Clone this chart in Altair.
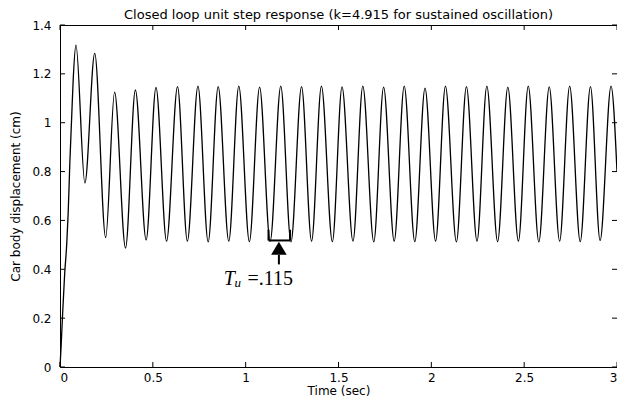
import altair as alt
import pandas as pd

# --- data ---
rise_t = [0.0, 0.005, 0.013, 0.025, 0.036, 0.044, 0.053, 0.063, 0.071]
rise_y = [0.0, 0.07, 0.20, 0.38, 0.50, 0.63, 0.835, 1.025, 1.175]

peak_t = [0.086, 0.187, 0.294, 0.406, 0.517, 0.633, 0.743, 0.852, 0.963, 1.075,
          1.189, 1.301, 1.408, 1.519, 1.631, 1.743, 1.854, 1.966, 2.076, 2.189,
          2.299, 2.412, 2.522, 2.635, 2.745, 2.857, 2.968]
peak_y = [1.318, 1.284, 1.125, 1.134, 1.145, 1.148, 1.150, 1.148, 1.150, 1.146,
          1.150, 1.148, 1.150, 1.147, 1.150, 1.146, 1.150, 1.142, 1.150, 1.148,
          1.150, 1.146, 1.150, 1.147, 1.150, 1.148, 1.150]

trough_t = [0.134, 0.246, 0.353, 0.464, 0.574, 0.686, 0.798, 0.909, 1.020, 1.132,
            1.244, 1.355, 1.467, 1.578, 1.690, 1.800, 1.911, 2.023, 2.135, 2.246,
            2.357, 2.469, 2.579, 2.691, 2.802, 2.909]
trough_y = [0.753, 0.530, 0.487, 0.520, 0.515, 0.515, 0.512, 0.515, 0.513, 0.515,
            0.512, 0.515, 0.513, 0.515, 0.512, 0.515, 0.513, 0.515, 0.512, 0.515,
            0.513, 0.515, 0.512, 0.515, 0.513, 0.518]

end_t = [3.0]
end_y = [0.80]

x_ticks = [0, 0.5, 1, 1.5, 2, 2.5, 3]
y_ticks = [0, 0.2, 0.4, 0.6, 0.8, 1.0, 1.2, 1.4]

title_text = "Closed loop unit step response (k=4.915 for sustained oscillation)"
x_title = "Time (sec)"
y_title = "Car body displacement (cm)"

# annotation (bracket spanning one period, arrow, label)
bracket_t = [1.123, 1.239]
bracket_y = [0.518, 0.562]
arrow_t = [1.179]
arrow_tip_y = [0.486]
stem_y = [0.459, 0.42]
label_parts = ["T", "u", "=.115"]
label_t = [0.882, 0.94, 1.01]
label_y = [0.337, 0.328, 0.337]

W, H = 557, 342
FONT = "DejaVu Sans"
FS = 12

t_all = rise_t + peak_t + trough_t + end_t
y_all = rise_y + peak_y + trough_y + end_y
df = pd.DataFrame({"t": t_all, "y": y_all}).sort_values("t").reset_index(drop=True)

xs = alt.Scale(domain=[0, 3], nice=False, zero=False)
ys = alt.Scale(domain=[0, 1.4], nice=False, zero=False)

common_axis = dict(format="~g", grid=False, ticks=False, domain=False,
                   labelFont=FONT, labelFontSize=FS, labelColor="black",
                   titleFont=FONT, titleFontSize=FS, titleColor="black", titleFontWeight="normal")
x_axis = alt.Axis(values=x_ticks, labelPadding=5, titlePadding=2, **common_axis)
y_axis = alt.Axis(values=y_ticks, labelPadding=9, titlePadding=9, **common_axis)

line = alt.Chart(df).mark_line(color="black", strokeWidth=1.3, interpolate="monotone").encode(
    x=alt.X("t:Q", scale=xs, axis=x_axis, title=x_title),
    y=alt.Y("y:Q", scale=ys, axis=y_axis, title=y_title),
)

ydf = pd.DataFrame({"v": y_ticks})
xdf = pd.DataFrame({"v": x_ticks})
tick_style = dict(color="black", strokeWidth=1)
lt = alt.Chart(ydf).mark_rule(**tick_style).encode(y=alt.Y("v:Q", scale=ys), x=alt.value(0), x2=alt.value(5))
rt = alt.Chart(ydf).mark_rule(**tick_style).encode(y=alt.Y("v:Q", scale=ys), x=alt.value(W - 5), x2=alt.value(W))
bt = alt.Chart(xdf).mark_rule(**tick_style).encode(x=alt.X("v:Q", scale=xs), y=alt.value(H - 5), y2=alt.value(H))
tt = alt.Chart(xdf).mark_rule(**tick_style).encode(x=alt.X("v:Q", scale=xs), y=alt.value(0), y2=alt.value(5))

bdf_h = pd.DataFrame({"a": [bracket_t[0]], "b": [bracket_t[1]], "y": [bracket_y[0]]})
bh = alt.Chart(bdf_h).mark_rule(color="black", strokeWidth=2).encode(
    x=alt.X("a:Q", scale=xs), x2="b:Q", y=alt.Y("y:Q", scale=ys))
bdf_v = pd.DataFrame({"t": bracket_t, "y1": [bracket_y[0]] * 2, "y2": [bracket_y[1]] * 2})
bv = alt.Chart(bdf_v).mark_rule(color="black", strokeWidth=2).encode(
    x=alt.X("t:Q", scale=xs), y=alt.Y("y1:Q", scale=ys), y2="y2:Q")

adf = pd.DataFrame({"t": arrow_t, "y": arrow_tip_y})
arrow = alt.Chart(adf).mark_point(shape="M0,-0.83L-1,0.83L1,0.83Z", filled=True, color="black",
                                  size=243, opacity=1, strokeWidth=0).encode(
    x=alt.X("t:Q", scale=xs), y=alt.Y("y:Q", scale=ys))
sdf = pd.DataFrame({"t": arrow_t, "y1": [stem_y[0]], "y2": [stem_y[1]]})
stem = alt.Chart(sdf).mark_rule(color="black", strokeWidth=2).encode(
    x=alt.X("t:Q", scale=xs), y=alt.Y("y1:Q", scale=ys), y2="y2:Q")

def lbl(i, size, style):
    d = pd.DataFrame({"t": [label_t[i]], "y": [label_y[i]], "s": [label_parts[i]]})
    return alt.Chart(d).mark_text(align="left", baseline="alphabetic", font="Liberation Serif",
                                  fontSize=size, fontStyle=style, color="black").encode(
        x=alt.X("t:Q", scale=xs), y=alt.Y("y:Q", scale=ys), text="s:N")

labels = lbl(0, 20, "italic") + lbl(1, 13, "italic") + lbl(2, 20, "normal")

chart = alt.layer(line, lt, rt, bt, tt, bh, bv, arrow, stem, labels).properties(
    width=W, height=H,
    title=alt.TitleParams(title_text, font=FONT, fontSize=13, fontWeight="normal",
                          color="black", offset=2, dy=5, anchor="middle"),
    autosize=alt.AutoSizeParams(type="none"),
    padding={"left": 52, "top": 17, "right": 0, "bottom": 31},
).configure_view(stroke="black", strokeWidth=1)

chart.save("out.html", embed_options={"renderer": "svg", "actions": False})
